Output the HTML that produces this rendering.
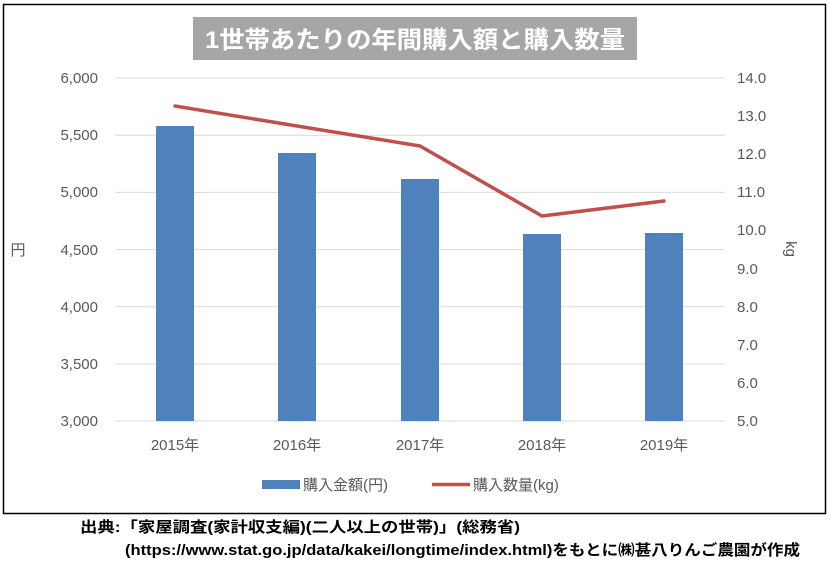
<!DOCTYPE html>
<html><head><meta charset="utf-8"><style>
body{margin:0;background:#fff;}
svg{display:block;font-family:"Liberation Sans","Noto Sans CJK JP",sans-serif;}
</style></head><body>
<svg width="830" height="573" viewBox="0 0 830 573">
<rect x="3.5" y="4.5" width="822" height="509" fill="#fff" stroke="#000" stroke-width="1.5"/>
<rect x="193" y="17" width="444" height="43" fill="#a6a6a6"/>
<text x="415" y="48" text-anchor="middle" font-size="24" font-weight="bold" fill="#fff" textLength="420" lengthAdjust="spacingAndGlyphs">1世帯あたりの年間購入額と購入数量</text>
<g stroke="#d9d9d9" stroke-width="1">
<line x1="115" x2="725" y1="78" y2="78"/><line x1="115" x2="725" y1="135.2" y2="135.2"/>
<line x1="115" x2="725" y1="192.4" y2="192.4"/><line x1="115" x2="725" y1="249.6" y2="249.6"/>
<line x1="115" x2="725" y1="306.8" y2="306.8"/><line x1="115" x2="725" y1="364" y2="364"/>
<line x1="115" x2="725" y1="421" y2="421"/>
</g>
<g font-size="15" fill="#595959" text-anchor="end">
<text x="98" y="83">6,000</text><text x="98" y="140">5,500</text><text x="98" y="197">5,000</text>
<text x="98" y="255">4,500</text><text x="98" y="312">4,000</text><text x="98" y="369">3,500</text><text x="98" y="426">3,000</text>
</g>
<g font-size="15" fill="#595959" text-anchor="start">
<text x="737" y="83">14.0</text><text x="737" y="121">13.0</text><text x="737" y="159">12.0</text>
<text x="737" y="197">11.0</text><text x="737" y="235">10.0</text><text x="737" y="274">9.0</text>
<text x="737" y="312">8.0</text><text x="737" y="350">7.0</text><text x="737" y="388">6.0</text><text x="737" y="426">5.0</text>
</g>
<text x="18" y="255" font-size="15" fill="#595959" text-anchor="middle">円</text>
<text transform="translate(786,249) rotate(90)" font-size="15" fill="#595959" text-anchor="middle">kg</text>
<g fill="#4f81bd">
<rect x="156" y="126" width="38" height="295"/>
<rect x="278" y="153" width="38" height="268"/>
<rect x="401" y="179" width="38" height="242"/>
<rect x="523" y="234" width="38" height="187"/>
<rect x="645" y="233" width="38" height="188"/>
</g>
<polyline points="175,106 297,126 420,146 542,216 664,201" fill="none" stroke="#c0504d" stroke-width="3.5" stroke-linejoin="round" stroke-linecap="round"/>
<g font-size="15" fill="#595959" text-anchor="middle">
<text x="175" y="450">2015年</text><text x="297" y="450">2016年</text><text x="420" y="450">2017年</text>
<text x="542" y="450">2018年</text><text x="664" y="450">2019年</text>
</g>
<rect x="262" y="480" width="38" height="9" fill="#4f81bd"/>
<text x="303" y="490" font-size="15" fill="#595959">購入金額(円)</text>
<line x1="432" x2="470" y1="484.5" y2="484.5" stroke="#c0504d" stroke-width="3.5"/>
<text x="473" y="490" font-size="15" fill="#595959">購入数量(kg)</text>
<text x="80" y="532" font-size="15" font-weight="bold" fill="#000" textLength="440" lengthAdjust="spacingAndGlyphs">出典:「家屋調査(家計収支編)(二人以上の世帯)」(総務省)</text>
<text x="125" y="555" font-size="15" font-weight="bold" fill="#000" textLength="675" lengthAdjust="spacingAndGlyphs">(https://www.stat.go.jp/data/kakei/longtime/index.html)をもとに㈱甚八りんご農園が作成</text>
</svg>
</body></html>
